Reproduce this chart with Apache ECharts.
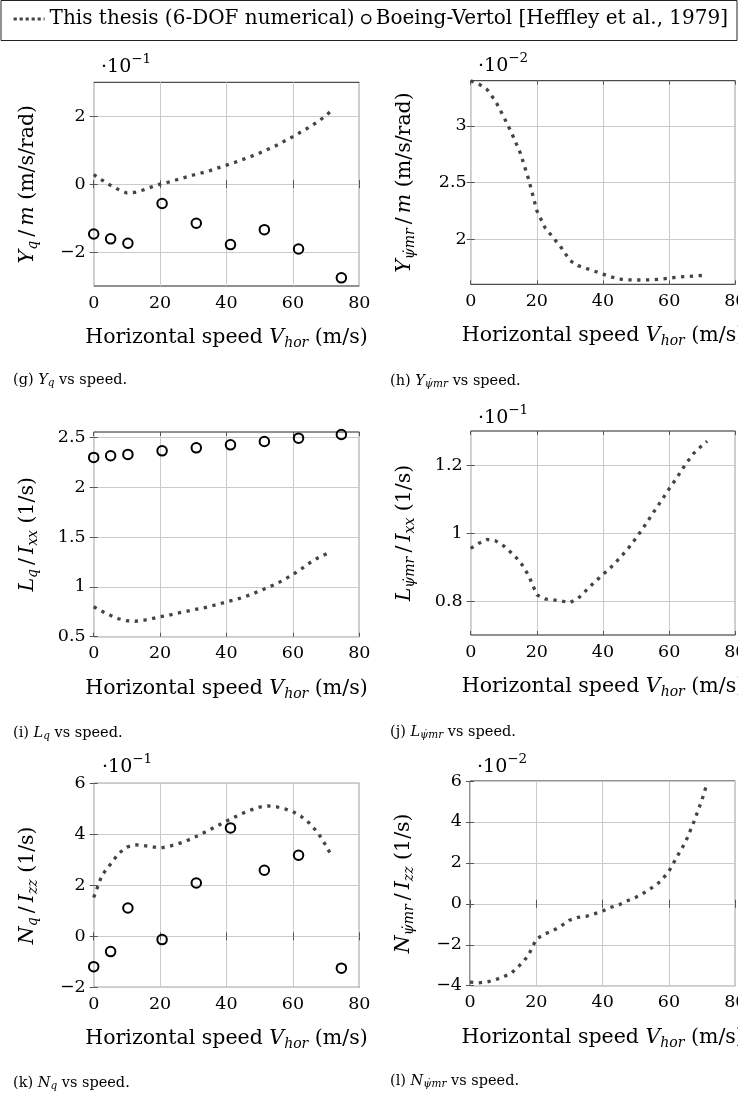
<!DOCTYPE html>
<html><head><meta charset="utf-8">
<script src="https://cdn.jsdelivr.net/npm/echarts@6/dist/echarts.min.js"></script>
<style>html,body{margin:0;padding:0;background:#fff}#c{width:738px;height:1097px}</style>
</head><body><div id="c"></div>
<script>
// ---------- DATA ----------
// speeds (m/s) at which the numerical (6-DOF) curves were read
const speedNum = [0,2.5,5,7.5,10,12.5,15,17.5,20,22.5,25,27.5,30,32.5,35,37.5,40,42.5,45,47.5,50,52.5,55,57.5,60,62.5,65,67.5,70,71.5];
// Boeing-Vertol flight-test speeds (m/s)
const speedBV = [0,5.1,10.3,20.6,30.9,41.2,51.4,61.7,74.6];

// (g) Yq/m  [x10^-1 m/s/rad]
const YqNum = [0.28,0.12,-0.03,-0.16,-0.26,-0.24,-0.17,-0.08,0.0,0.06,0.13,0.20,0.27,0.33,0.40,0.48,0.56,0.64,0.73,0.82,0.92,1.03,1.14,1.27,1.40,1.54,1.68,1.84,2.02,2.16];
const YqBV  = [-1.47,-1.61,-1.74,-0.57,-1.15,-1.78,-1.34,-1.91,-2.76];
// (h) Ypsi/m  [x10^-2 m/s/rad]
const YpsiNum = [3.40,3.37,3.32,3.22,3.08,2.93,2.76,2.53,2.25,2.10,2.01,1.92,1.81,1.765,1.74,1.715,1.69,1.665,1.645,1.64,1.638,1.638,1.64,1.645,1.655,1.663,1.668,1.673,1.678,1.68];
// (i) Lq/Ixx  [1/s]
const LqNum = [0.80,0.755,0.715,0.68,0.66,0.655,0.665,0.68,0.70,0.715,0.735,0.75,0.77,0.785,0.805,0.825,0.85,0.87,0.895,0.925,0.96,0.995,1.03,1.075,1.125,1.18,1.24,1.29,1.33,1.35];
const LqBV  = [2.30,2.316,2.33,2.366,2.396,2.426,2.46,2.493,2.53];
// (j) Lpsi/Ixx  [x10^-1 1/s]
const LpsiNum = [0.955,0.970,0.981,0.977,0.962,0.940,0.915,0.875,0.818,0.806,0.803,0.800,0.795,0.808,0.832,0.856,0.878,0.900,0.926,0.953,0.985,1.02,1.057,1.093,1.13,1.165,1.203,1.235,1.258,1.27];
// (k) Nq/Izz  [x10^-1 1/s]
const NqNum = [1.52,2.40,2.82,3.25,3.50,3.59,3.56,3.51,3.46,3.52,3.61,3.72,3.86,4.02,4.18,4.35,4.52,4.68,4.83,4.96,5.07,5.11,5.08,5.00,4.89,4.70,4.43,4.07,3.55,3.19];
const NqBV  = [-1.19,-0.60,1.11,-0.13,2.09,4.25,2.59,3.18,-1.25];
// (l) Npsi/Izz  [x10^-2 1/s]
const NpsiNum = [-3.83,-3.86,-3.82,-3.72,-3.57,-3.38,-3.0,-2.55,-1.72,-1.48,-1.31,-1.08,-0.8,-0.66,-0.61,-0.49,-0.35,-0.17,-0.04,0.15,0.32,0.54,0.80,1.1,1.6,2.32,3.02,4.0,5.1,5.9];

// tick labels
const xTicks = [0,20,40,60,80];
const yTicksG = [-2,0,2];
const yTicksH = [2,2.5,3];
const yTicksI = [0.5,1,1.5,2,2.5];
const yTicksJ = [0.8,1,1.2];
const yTicksK = [-2,0,2,4,6];
const yTicksL = [-4,-2,0,2,4,6];

const NAME_NUM = 'This thesis (6-DOF numerical)';
const NAME_BV = 'Boeing-Vertol [Heffley et al., 1979]';

// ---------- LAYOUT ----------
const F = 'DejaVu Serif';
const PSI = '\u03C8\u0307';
const panels = [
  {grid:{left:93.7, top:82.3, width:265.6, height:203.7}, min:-3, max:3, ticks:yTicksG, lm:8,
   yName:'{i|Y}{s|q}{n|\u2009/\u2009}{i|m}{n| (m/s/rad)}', exp:'\u22121', expPos:[101,67],
   cap:'{n|(g) }{i|Y}{s|q}{n| vs speed.}', capPos:[13,380], num:YqNum, bv:YqBV},
  {grid:{left:470.7, top:80.7, width:264.6, height:203.6}, min:1.6, max:3.4, ticks:yTicksH, lm:4,
   yName:'{i|Y}{s|'+PSI+'mr}{n|\u2009/\u2009}{i|m}{n| (m/s/rad)}', exp:'\u22122', expPos:[478,66],
   cap:'{n|(h) }{i|Y}{s|'+PSI+'mr}{n| vs speed.}', capPos:[390,381], num:YpsiNum, bv:null},
  {grid:{left:93.7, top:432, width:265.6, height:204.7}, min:0.5, max:2.555, ticks:yTicksI, lm:8,
   yName:'{i|L}{s|q}{n|\u2009/\u2009}{i|I}{s|xx}{n| (1/s)}', exp:null,
   cap:'{n|(i) }{i|L}{s|q}{n| vs speed.}', capPos:[13,733], num:LqNum, bv:LqBV},
  {grid:{left:470.7, top:431, width:264.6, height:204}, min:0.7, max:1.3, ticks:yTicksJ, lm:8,
   yName:'{i|L}{s|'+PSI+'mr}{n|\u2009/\u2009}{i|I}{s|xx}{n| (1/s)}', exp:'\u22121', expPos:[478,418],
   cap:'{n|(j) }{i|L}{s|'+PSI+'mr}{n| vs speed.}', capPos:[390,732], num:LpsiNum, bv:null},
  {grid:{left:93.7, top:783.3, width:265.6, height:204}, min:-2, max:6, ticks:yTicksK, lm:8,
   yName:'{i|N}{s|q}{n|\u2009/\u2009}{i|I}{s|zz}{n| (1/s)}', exp:'\u22121', expPos:[102,767],
   cap:'{n|(k) }{i|N}{s|q}{n| vs speed.}', capPos:[13,1083], num:NqNum, bv:NqBV},
  {grid:{left:470, top:781, width:265.3, height:204.7}, min:-4, max:6, ticks:yTicksL, lm:8,
   yName:'{i|N}{s|'+PSI+'mr}{n|\u2009/\u2009}{i|I}{s|zz}{n| (1/s)}', exp:'\u22122', expPos:[477,767],
   cap:'{n|(l) }{i|N}{s|'+PSI+'mr}{n| vs speed.}', capPos:[390,1081], num:NpsiNum, bv:null}
];

const fmt = v => (v < 0 ? '\u2212' + Math.abs(v) : String(v));
const NS = 20.5;
const nameRich = {
  n:{fontFamily:F, fontSize:NS, lineHeight:27, color:'#000', verticalAlign:'middle'},
  i:{fontFamily:F, fontSize:NS, fontStyle:'italic', lineHeight:27, color:'#000', verticalAlign:'middle'},
  s:{fontFamily:F, fontSize:14, fontStyle:'italic', lineHeight:14, padding:[12,0,0,0], color:'#000', verticalAlign:'middle'}
};
const capRich = {
  n:{fontFamily:F, fontSize:14.5, lineHeight:18, color:'#000', verticalAlign:'middle'},
  i:{fontFamily:F, fontSize:14.5, fontStyle:'italic', lineHeight:18, color:'#000', verticalAlign:'middle'},
  s:{fontFamily:F, fontSize:10.5, fontStyle:'italic', lineHeight:10, padding:[7,0,0,0], color:'#000', verticalAlign:'middle'}
};
const expRich = {
  n:{fontFamily:F, fontSize:19, lineHeight:26, color:'#000', verticalAlign:'middle'},
  e:{fontFamily:F, fontSize:13.5, lineHeight:10, padding:[0,0,15,0], color:'#000', verticalAlign:'middle'}
};

const grids = [], xAxes = [], yAxes = [], series = [], graphics = [];
const tickStyle = {show:true, inside:true, length:4, lineStyle:{color:'#555', width:1}};
const gridLine = {show:true, lineStyle:{color:'#cbcbcb', width:1}};

panels.forEach((p, k) => {
  grids.push(Object.assign({show:true, borderColor:'#222', borderWidth:1, backgroundColor:'transparent',
    containLabel:false, outerBoundsMode:'none'}, p.grid));
  xAxes.push({gridIndex:k, type:'value', min:0, max:80, position:'bottom',
    axisLine:{show:false},
    axisTick:Object.assign({customValues:xTicks}, tickStyle),
    axisLabel:{customValues:xTicks, margin:8, fontFamily:F, fontSize:17.5, color:'#000', formatter:fmt},
    splitLine:gridLine,
    name:'{n|Horizontal speed }{i|V}{s|hor}{n| (m/s)}', nameLocation:'middle', nameGap:38,
    nameTextStyle:{fontFamily:F, fontSize:NS, lineHeight:27, color:'#000', rich:nameRich}});
  xAxes.push({gridIndex:k, type:'value', min:0, max:80, position:'top',
    axisLine:{show:false}, axisLabel:{show:false}, splitLine:{show:false},
    axisTick:Object.assign({customValues:xTicks}, tickStyle)});
  yAxes.push({gridIndex:k, type:'value', min:p.min, max:p.max, position:'left',
    axisLine:{show:false},
    axisTick:Object.assign({customValues:p.ticks}, tickStyle),
    axisLabel:{customValues:p.ticks, margin:p.lm, fontFamily:F, fontSize:17.5, color:'#000', formatter:fmt},
    splitLine:gridLine,
    name:p.yName, nameLocation:'middle', nameGap:53, nameRotate:90,
    nameTextStyle:{fontFamily:F, fontSize:NS, lineHeight:27, color:'#000', rich:nameRich}});
  yAxes.push({gridIndex:k, type:'value', min:p.min, max:p.max, position:'right',
    axisLine:{show:false}, axisLabel:{show:false}, splitLine:{show:false},
    axisTick:Object.assign({customValues:p.ticks}, tickStyle)});

  series.push({name:NAME_NUM, type:'line', xAxisIndex:2*k, yAxisIndex:2*k, symbol:'none', silent:true,
    lineStyle:{color:'#444', width:3.3, type:[3.3,5.5], cap:'butt'}, itemStyle:{color:'#444'},
    data:speedNum.map((v,j)=>[v, p.num[j]]), z:3});
  if (p.bv) {
    series.push({name:NAME_BV, type:'scatter', xAxisIndex:2*k, yAxisIndex:2*k, symbol:'circle', symbolSize:9.5,
      itemStyle:{color:'rgba(255,255,255,0)', borderColor:'#000', borderWidth:2, opacity:1},
      data:speedBV.map((v,j)=>[v, p.bv[j]]), z:4, clip:false});
  }
  if (p.exp) {
    graphics.push({type:'text', x:p.expPos[0], y:p.expPos[1],
      style:{text:'{n|\u00B710}{e|'+p.exp+'}', rich:expRich, verticalAlign:'middle', align:'left'}});
  }
  graphics.push({type:'text', x:p.capPos[0], y:p.capPos[1],
    style:{text:p.cap, rich:capRich, verticalAlign:'middle', align:'left'}});
});

graphics.push({type:'rect', shape:{x:1, y:0.5, width:736, height:40}, style:{fill:'none', stroke:'#222', lineWidth:1}, z:-1});

const chart = echarts.init(document.getElementById('c'), null, {renderer:'canvas'});
chart.setOption({
  animation:false,
  backgroundColor:'#fff',
  grid:grids, xAxis:xAxes, yAxis:yAxes, series:series, graphic:graphics,
  legend:[
    {data:[{name:NAME_NUM, itemStyle:{color:'rgba(0,0,0,0)', borderWidth:0}}], left:12, top:9, itemWidth:31, itemHeight:20, selectedMode:false,
     lineStyle:{color:'#444', width:3.2, type:[3.2,2.8], cap:'butt'},
     textStyle:{fontFamily:F, fontSize:20, color:'#000'}, itemGap:5, padding:0},
    {data:[{name:NAME_BV, icon:'circle', itemStyle:{color:'rgba(255,255,255,0)', borderColor:'#000', borderWidth:1.5}}],
     left:361, top:9, itemWidth:9, itemHeight:9, selectedMode:false,
     textStyle:{fontFamily:F, fontSize:20, color:'#000'}, padding:0}
  ]
});
</script></body></html>
